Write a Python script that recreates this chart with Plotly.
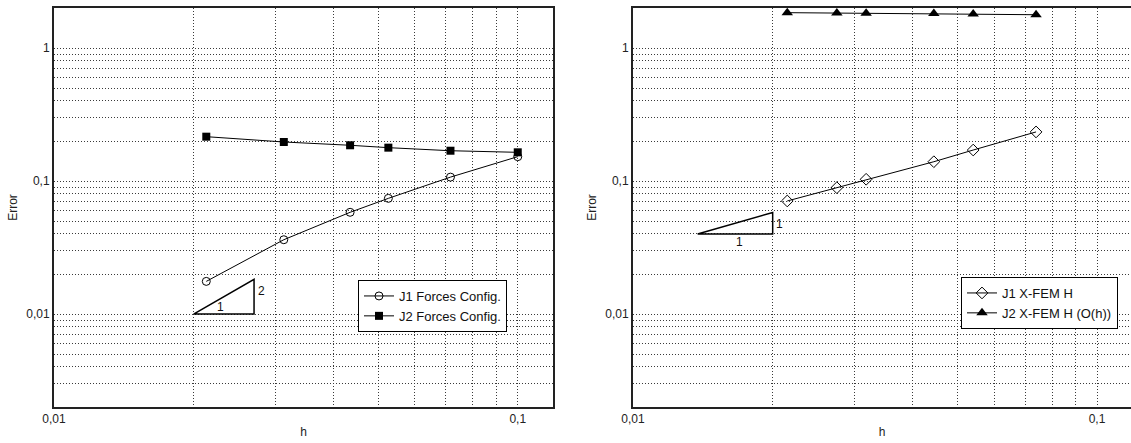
import plotly.graph_objects as go

# ---- data ----
h_left = [0.0213, 0.0313, 0.0435, 0.0526, 0.0716, 0.1]
j1_forces = [0.0176, 0.0362, 0.0582, 0.0741, 0.107, 0.1525]
j2_forces = [0.2155, 0.1966, 0.1857, 0.1782, 0.169, 0.1644]

h_right = [0.0215, 0.0275, 0.0318, 0.0445, 0.0541, 0.0739]
j1_xfem = [0.0708, 0.0891, 0.1031, 0.1397, 0.171, 0.234]
j2_xfem = [1.845, 1.835, 1.83, 1.815, 1.805, 1.78]

tri_left_x = [0.02, 0.027, 0.027, 0.02]
tri_left_y = [0.01, 0.01, 0.018225, 0.01]
tri_right_x = [0.01378, 0.02, 0.02, 0.01378]
tri_right_y = [0.04, 0.04, 0.05805, 0.04]

x_ticks = [m * 10 ** e for e in (-2, -1) for m in range(1, 10)]
x_text = ["0,01"] + [""] * 8 + ["0,1"] + [""] * 8
y_ticks = [m * 10 ** e for e in (-3, -2, -1, 0) for m in range(1, 10)]
y_text = []
for v in y_ticks:
    y_text.append({0.01: "0,01", 0.1: "0,1", 1: "1"}.get(round(v, 6), ""))

W, H = 1131, 443
ML, MT, MB, MR = 54, 8, 36, 0
PW = W - ML - MR
PH = H - MT - MB
FONT = "Liberation Sans, Arial, sans-serif"
GRID = dict(showgrid=True, gridcolor="#3a3a3a", griddash="1px,2px", gridwidth=1)

fig = go.Figure()

line = dict(color="black", width=1)
fig.add_trace(go.Scatter(x=h_left, y=j1_forces, mode="lines+markers", name="J1 Forces Config.",
                         line=line, marker=dict(symbol="circle-open", size=8, color="black", line=dict(width=1)),
                         xaxis="x", yaxis="y", legend="legend", cliponaxis=False))
fig.add_trace(go.Scatter(x=h_left, y=j2_forces, mode="lines+markers", name="J2 Forces Config.",
                         line=line, marker=dict(symbol="square", size=8, color="black"),
                         xaxis="x", yaxis="y", legend="legend", cliponaxis=False))
fig.add_trace(go.Scatter(x=tri_left_x, y=tri_left_y, mode="lines", line=dict(color="black", width=1.5),
                         showlegend=False, xaxis="x", yaxis="y"))

fig.add_trace(go.Scatter(x=h_right, y=j1_xfem, mode="lines+markers", name="J1 X-FEM H",
                         line=line, marker=dict(symbol="diamond-open", size=9, color="black", line=dict(width=1)),
                         xaxis="x2", yaxis="y2", legend="legend2", cliponaxis=False))
fig.add_trace(go.Scatter(x=h_right, y=j2_xfem, mode="lines+markers", name="J2 X-FEM H (O(h))",
                         line=line, marker=dict(symbol="triangle-up", size=10, color="black"),
                         xaxis="x2", yaxis="y2", legend="legend2", cliponaxis=False))
fig.add_trace(go.Scatter(x=tri_right_x, y=tri_right_y, mode="lines", line=dict(color="black", width=1.5),
                         showlegend=False, xaxis="x2", yaxis="y2"))

xl_dom = [0, (553 - ML) / PW]
xr_dom = [(633 - ML) / PW, 1.0]

def xaxis(dom, anchor, rng):
    return dict(type="log", domain=dom, anchor=anchor, range=rng, automargin=False,
                tickvals=x_ticks, ticktext=x_text, ticks="", **GRID,
                showline=True, linecolor="#222222", linewidth=2, mirror=True,
                zeroline=False, tickfont=dict(size=12, color="#222222", family=FONT),
                title=dict(text="h", font=dict(size=12, color="#222222", family=FONT), standoff=2))

def yaxis(anchor, mirror):
    return dict(type="log", domain=[0, 1], anchor=anchor, range=[-2.699, 0.301], automargin=False,
                tickvals=y_ticks, ticktext=y_text, ticks="", **GRID,
                showline=True, linecolor="#222222", linewidth=2, mirror=mirror,
                zeroline=False, tickfont=dict(size=12, color="#222222", family=FONT),
                title=dict(text="Error", font=dict(size=12, color="#222222", family=FONT), standoff=6))

def px_x(px):
    return (px - ML) / PW

def px_y(py):
    return (H - MB - py) / PH

fig.update_layout(
    width=W, height=H,
    margin=dict(l=ML, r=MR, t=MT, b=MB, autoexpand=False),
    paper_bgcolor="white", plot_bgcolor="white",
    font=dict(family=FONT, size=12, color="#222222"),
    xaxis=xaxis(xl_dom, "y", [-2, -0.924]),
    yaxis=yaxis("x", True),
    xaxis2=xaxis(xr_dom, "y2", [-2, -2 + (1131 - 633) / 464]),
    yaxis2=yaxis("x2", False),
    legend=dict(x=px_x(507), y=px_y(332), xanchor="right", yanchor="bottom",
                bgcolor="white", bordercolor="black", borderwidth=1,
                font=dict(size=13, family=FONT, color="#111111"),
                tracegroupgap=0, itemwidth=30),
    legend2=dict(x=px_x(1118), y=px_y(329), xanchor="right", yanchor="bottom",
                 bgcolor="white", bordercolor="black", borderwidth=1,
                 font=dict(size=13, family=FONT, color="#111111"),
                 tracegroupgap=0, itemwidth=30),
    showlegend=True,
)

ann_font = dict(size=12, color="#111111", family=FONT)
fig.add_annotation(x=-1.64, y=-1.95, xref="x", yref="y", text="1", showarrow=False, font=ann_font)
fig.add_annotation(x=-1.5686, y=-1.83, xref="x", yref="y", text="2", showarrow=False,
                   xanchor="left", xshift=2, font=ann_font)
fig.add_annotation(x=-1.77, y=-1.46, xref="x2", yref="y2", text="1", showarrow=False, font=ann_font)
fig.add_annotation(x=-1.699, y=-1.32, xref="x2", yref="y2", text="1", showarrow=False,
                   xanchor="left", xshift=1, font=ann_font)

fig.write_html("out.html", config={"displayModeBar": False})

# remove the browser's default body margin so the figure fills the window exactly
with open("out.html", encoding="utf-8") as f:
    html = f.read()
html = html.replace("<body>", '<body style="margin:0;padding:0;overflow:hidden">', 1)
with open("out.html", "w", encoding="utf-8") as f:
    f.write(html)
